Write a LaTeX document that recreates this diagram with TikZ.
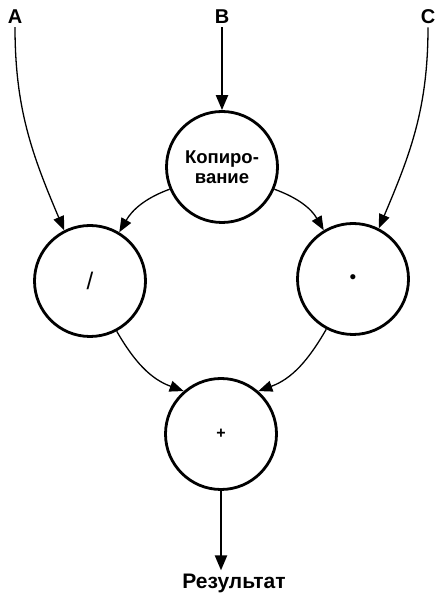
\documentclass[tikz,border=0pt]{standalone}
\usepackage{fontspec}
\setmainfont{Liberation Sans}
\usetikzlibrary{arrows.meta}

\begin{document}
\begin{tikzpicture}[x=1pt, y=1pt,
    op/.style={circle, draw, line width=2.8pt, minimum size=111pt, inner sep=0pt,
      align=center, font=\bfseries\fontsize{18.5}{20}\selectfont},
    inlet/.style={inner sep=3pt, font=\bfseries\fontsize{20}{22}\selectfont},
    flow/.style={line width=1.3pt, -{Triangle[length=14pt, width=11pt]}},
    feed/.style={line width=2.2pt, -{Triangle[length=15pt, width=12pt]}}]
  \useasboundingbox (0,0) rectangle (434,597);
  % the inputs
  \node[inlet] (a) at (15,580) {A};
  \node[inlet] (b) at (222,580) {B};
  \node[inlet] (c) at (428,580) {C};
  % the operations
  \node[op] (copy) at (222,430) {Копиро-\\вание};
  \node[op, font=\fontsize{24}{24}\selectfont] (div) at (90,316) {/};
  \node[op, font=\fontsize{19}{19}\selectfont] (mul) at (353,318) {•};
  \node[op, font=\bfseries\fontsize{16}{16}\selectfont] (add) at (221,163) {+};
  \node[inlet, font=\bfseries\fontsize{21}{23}\selectfont] (result) at (234,14) {Результат};
  % the data flow
  \draw[feed] (b.south) -- (copy.north);
  \draw[flow] (a.south) to[out=-90, in=113] (div.117);
  \draw[flow] (c.south) to[out=-90, in=67] (mul.63);
  \draw[flow] (copy.203) to[out=200, in=60] (div.59);
  \draw[flow] (copy.337) to[out=-20, in=120] (mul.121);
  \draw[flow] (div.298) to[out=-60, in=160] (add.131);
  \draw[flow] (mul.242) to[out=-120, in=20] (add.49);
  \draw[feed] (add.south) -- (result.north -| add.south);
\end{tikzpicture}
\end{document}
